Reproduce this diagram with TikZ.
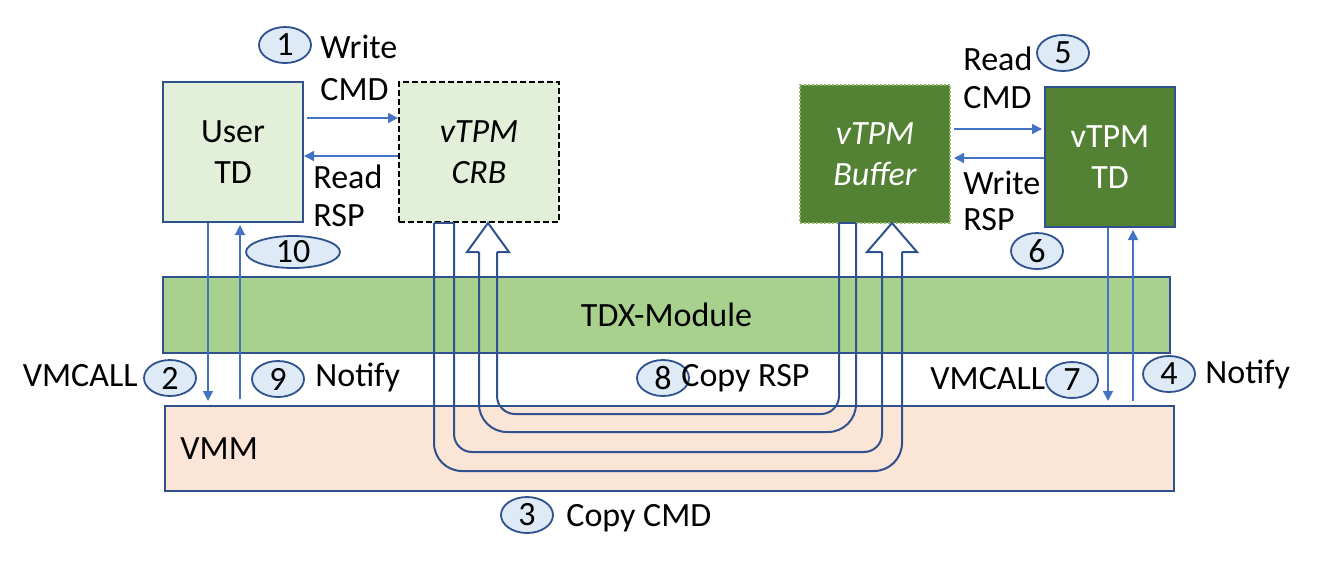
\documentclass[tikz,border=0pt]{standalone}
\usepackage{fontspec}
\setmainfont{Carlito}
\usetikzlibrary{arrows.meta,shapes.geometric}
\definecolor{bord}{HTML}{2F528F}
\definecolor{thin}{HTML}{4472C4}
\definecolor{lgreen}{HTML}{E2F0D9}
\definecolor{dgreen}{HTML}{548235}
\definecolor{mgreen}{HTML}{A9D18E}
\definecolor{peach}{HTML}{FBE5D6}
\definecolor{ellfill}{HTML}{DEEBF7}
\definecolor{dotgreen}{HTML}{8DB86A}
\tikzset{
  box/.style={rectangle, inner sep=0pt, align=center, font=\fontsize{17}{20.5}\selectfont, line width=1pt},
  num/.style={ellipse, draw=bord, fill=ellfill, line width=0.9pt, inner sep=0pt, minimum width=26pt, minimum height=18pt, font=\fontsize{17}{20}\selectfont},
  lbl/.style={inner sep=0pt, anchor=west, text height=12pt, text depth=3.5pt, font=\fontsize{17}{20}\selectfont},
  thinarrow/.style={draw=thin, line width=0.7pt, -{Triangle[width=5pt,length=5pt]}},
  hollow/.style={draw=bord, line width=1pt, line join=miter},
}
\begin{document}
\begin{tikzpicture}[x=0.5pt,y=-0.5pt]
\useasboundingbox (0,0) rectangle (1336,570);
% layers
\node[box, draw=bord, fill=mgreen, minimum width=503.5pt, minimum height=38pt] (tdx) at (666.5,315) {TDX-Module};
\node[box, draw=bord, fill=peach, minimum width=504.5pt, minimum height=42.5pt] (vmm) at (669.5,448.5) {};
\node[lbl] (vmmtext) at (180,451) {VMM};
% top boxes
\node[box, draw=bord, fill=lgreen, minimum width=70pt, minimum height=70pt] (user) at (233,152) {User\\TD};
\node[box, draw=black, dash pattern=on 3pt off 1.5pt, fill=lgreen, minimum width=80pt, minimum height=70pt, font=\fontsize{17}{20.5}\selectfont\itshape] (crb) at (479,152) {vTPM\\CRB};
\node[box, draw=dotgreen, dash pattern=on 1pt off 1pt, fill=dgreen, text=white, minimum width=75pt, minimum height=69pt, font=\fontsize{17}{20.5}\selectfont\itshape] (buf) at (875,154) {vTPM\\Buffer};
\node[box, draw=bord, fill=dgreen, text=white, minimum width=65pt, minimum height=70pt] (vtd) at (1110,157) {vTPM\\TD};
% thin arrows between boxes
\draw[thinarrow] ([xshift=1.5pt,yshift=17pt]user.east) -- ([yshift=17pt]crb.west);
\draw[thinarrow] ([yshift=-2pt]crb.west) -- ([yshift=-2pt]user.east);
\draw[thinarrow] ([xshift=1.5pt,yshift=12.5pt]buf.east) -- ([xshift=-1pt,yshift=14pt]vtd.west);
\draw[thinarrow] ([yshift=-0.5pt]vtd.west) -- ([xshift=1.5pt,yshift=-2pt]buf.east);
% vertical arrows
\draw[thinarrow, shorten >=2pt] ([xshift=-12.5pt]user.south) -- ([xshift=-12.5pt]user.south |- vmm.north);
\draw[thinarrow, shorten <=3pt, shorten >=1pt] ([xshift=3.5pt]user.south |- vmm.north) -- ([xshift=3.5pt]user.south);
\draw[thinarrow, shorten >=2pt] ([xshift=-1pt]vtd.south) -- ([xshift=-1pt]vtd.south |- vmm.north);
\draw[thinarrow, shorten <=2pt, shorten >=1pt] ([xshift=11.5pt]vtd.south |- vmm.north) -- ([xshift=11.5pt]vtd.south);
% hollow arrow: Copy CMD (CRB -> Buffer)
\coordinate (c1) at (434,223);
\coordinate (c2) at (454,223);
\draw[hollow] (c1) -- (c2);
\draw[hollow, rounded corners=14pt] (c1) -- (434,471) -- (902,471) -- (902,252);
\draw[hollow, rounded corners=9pt] (c2) -- (454,452) -- (882,452) -- (882,252);
\draw[hollow] (882,252) -- (867,252) -- (892,223) -- (917,252) -- (902,252);
% hollow arrow: Copy RSP (Buffer -> CRB)
\coordinate (r1) at (839,223);
\coordinate (r2) at (856,223);
\draw[hollow] (r1) -- (r2);
\draw[hollow, rounded corners=14pt] (r2) -- (856,432) -- (479,432) -- (479,252);
\draw[hollow, rounded corners=9pt] (r1) -- (839,414) -- (497,414) -- (497,252);
\draw[hollow] (479,252) -- (467,252) -- (488,223) -- (509,252) -- (497,252);
% number ellipses
\node[num] (n1) at (285,45) {1};
\node[num, minimum width=47pt, minimum height=16pt] (n10) at (293,252) {10};
\node[num] (n2) at (170,378) {2};
\node[num] (n9) at (278,379) {9};
\node[num] (n8) at (663,378) {8};
\node[num] (n7) at (1072,380) {7};
\node[num] (n4) at (1169,374) {4};
\node[num] (n5) at (1063,53) {5};
\node[num] (n6) at (1037,251) {6};
\node[num] (n3) at (527,515) {3};
% labels
\node[lbl] (l1a) at (320,50) {Write};
\node[lbl] (l1b) at (320,92) {CMD};
\node[lbl] (l10a) at (313,180) {Read};
\node[lbl] (l10b) at (313,218) {RSP};
\node[lbl] (l5a) at (963,62) {Read};
\node[lbl] (l5b) at (963,100) {CMD};
\node[lbl] (l6a) at (963,186) {Write};
\node[lbl] (l6b) at (963,222) {RSP};
\node[lbl, anchor=east] (l2) at (138,378) {VMCALL};
\node[lbl] (l9) at (315,378) {Notify};
\node[lbl] (l8) at (681,378) {Copy RSP};
\node[lbl] (l7) at (930,381) {VMCALL};
\node[lbl] (l4) at (1205,375) {Notify};
\node[lbl] (l3) at (566,518) {Copy CMD};
\end{tikzpicture}
\end{document}
